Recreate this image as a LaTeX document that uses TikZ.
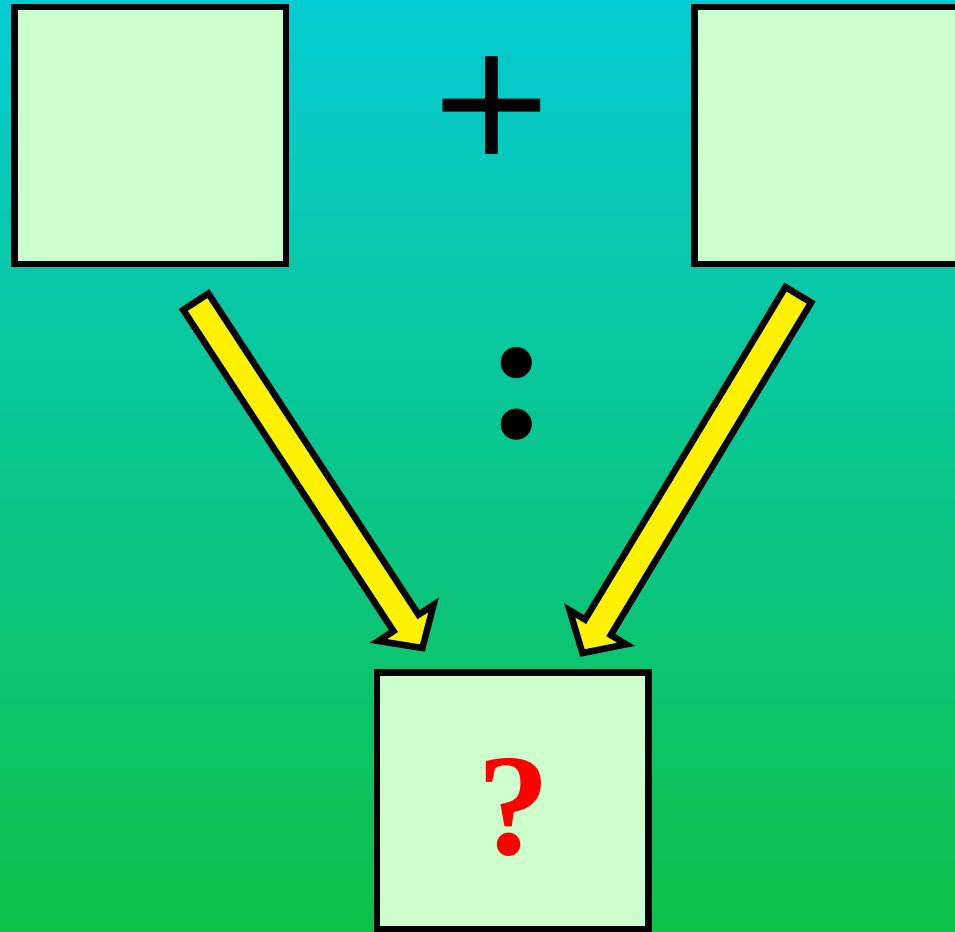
\documentclass[tikz,border=0pt]{standalone}
\usepackage{fontspec}
\setmainfont{Liberation Serif}
\newfontfamily\plusfont{DejaVu Sans}
\usetikzlibrary{positioning, calc}
\definecolor{skytop}{RGB}{5,203,211}
\definecolor{grassbottom}{RGB}{13,194,72}
\definecolor{boxgreen}{HTML}{CCFFCC}

\begin{document}
\begin{tikzpicture}[x=1pt, y=-1pt,
        box/.style={draw, line width=6.5pt, fill=boxgreen, minimum width=271.5pt, minimum height=256.5pt, inner sep=0pt},
        fatarrow/.style={draw, line width=6.5pt, fill=yellow, line join=miter}
    ]
    \clip (0,0) rectangle (955,931);
    \shade[top color=skytop, bottom color=grassbottom] (0,0) rectangle (955,931);

    \node[box] (left) at (150,135.5) {};
    \node[box, right=402pt of left] (right) {};
    \node[box] (result) at (512.5,800.5) {\fontsize{145}{145}\selectfont\bfseries\color{red}\hspace*{3pt}\raisebox{-5.5pt}[\height][0pt]{?}};
    \node[font=\plusfont\fontsize{156}{156}\selectfont] (plus) at (492,106) {+};
    \node[font=\fontsize{192}{192}\selectfont\bfseries] (colon) at (517.5,394) {:};

    \coordinate (ltail) at (195.8,301.7);
    \coordinate (ltip) at (422.4,648);
    \coordinate (rtail) at (798.3,294.8);
    \coordinate (rtip) at (582.4,653);

    \foreach \s/\e in {ltail/ltip, rtail/rtip} {
        \coordinate (neck) at ($(\e)!30pt!(\s)$);
        \draw[fatarrow] ($(\s)!15pt!90:(\e)$) -- ($(neck)!15pt!90:(\e)$) -- ($(neck)!33pt!90:(\e)$) -- (\e)
            -- ($(neck)!33pt!-90:(\e)$) -- ($(neck)!15pt!-90:(\e)$) -- ($(\s)!15pt!-90:(\e)$) -- cycle;
    }
\end{tikzpicture}
\end{document}
